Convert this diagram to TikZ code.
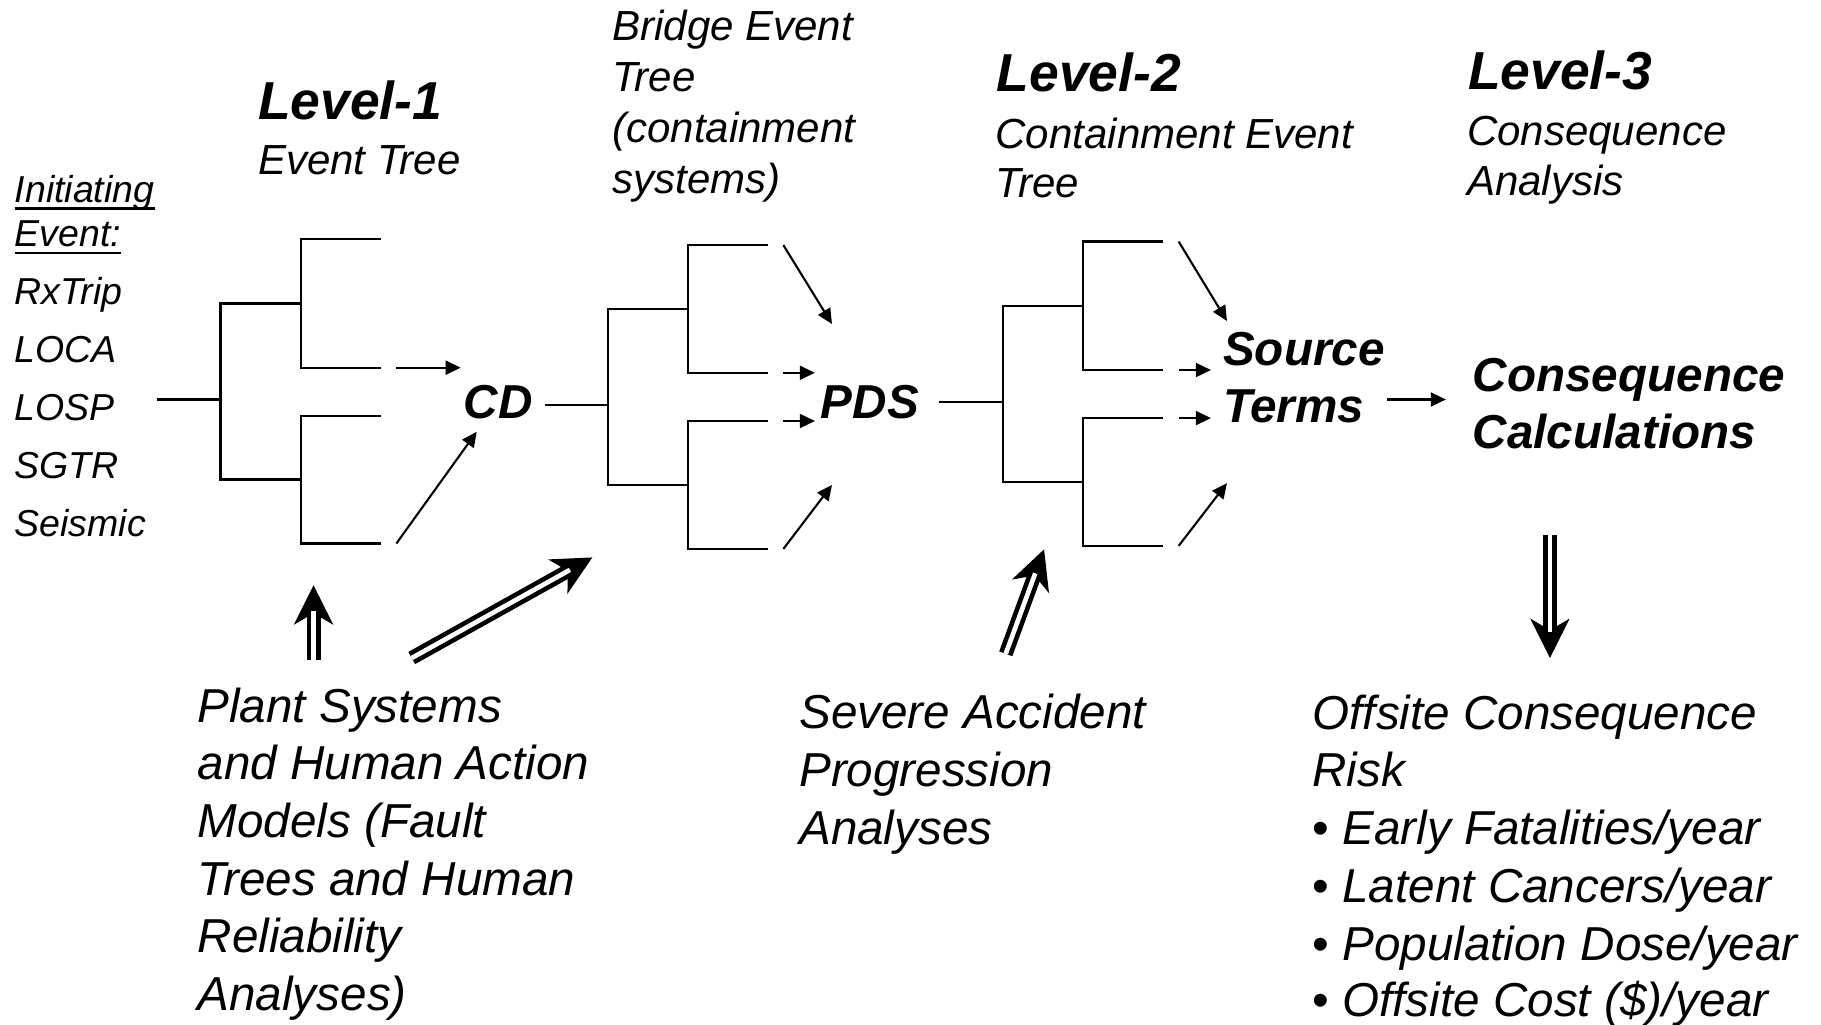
\documentclass[tikz,border=0pt]{standalone}
\usepackage{fontspec}
\setmainfont{Liberation Sans}
\usetikzlibrary{arrows.meta}

\tikzset{
  branch/.style={line width=2pt, line join=miter},
  ptr/.style={line width=1.8pt, -{Triangle[length=13pt,width=12pt]}},
  fatshaft/.style={line width=12pt, -{Stealth[length=34pt,width=34pt,inset=10pt,line width=0pt]}},
  fatgap/.style={line width=4pt, white, shorten >=22pt},
  txt/.style={anchor=base west, inner sep=0pt},
  hdtext/.style={txt, font=\fontsize{46}{50}\selectfont\bfseries\itshape},
  subtext/.style={txt, font=\fontsize{36.2}{40}\selectfont\itshape},
  ietext/.style={txt, font=\fontsize{32.3}{36}\selectfont\itshape},
  stagetext/.style={inner sep=0pt, font=\fontsize{41}{46}\selectfont\bfseries\itshape},
  bodytext/.style={txt, font=\fontsize{41}{46}\selectfont\itshape},
}

% Two-level binary event tree:
% #1 name, #2 junction x, #3 branch x, #4 leaf end x, #5 root y, #6-#9 leaf y
\newcommand{\eventtree}[9]{%
  \coordinate (#1-in) at (#2,#5);
  \coordinate (#1-a) at (#4,#6);
  \coordinate (#1-b) at (#4,#7);
  \coordinate (#1-c) at (#4,#8);
  \coordinate (#1-d) at (#4,#9);
  \coordinate (#1-sa) at ({#4+13.5},#6);
  \coordinate (#1-sb) at ({#4+13.5},#7);
  \coordinate (#1-sc) at ({#4+13.5},#8);
  \coordinate (#1-sd) at ({#4+13.5},#9);
  \draw[branch] (#1-a) -- (#3,#6) -- (#3,#7) -- (#1-b);
  \draw[branch] (#1-c) -- (#3,#8) -- (#3,#9) -- (#1-d);
  \draw[branch] (#3,{(#6+#7)/2}) -- (#2,{(#6+#7)/2}) -- (#2,{(#8+#9)/2}) -- (#3,{(#8+#9)/2});
}

% Open double-line arrow with a solid head
\newcommand{\fatarrow}[2]{%
  \draw[fatshaft] (#1) -- (#2);
  \draw[fatgap] (#1) -- (#2);
}

\begin{document}
\begin{tikzpicture}[x=1pt, y=-1pt]
\fill[white] (0,0) rectangle (1568,882);
\useasboundingbox (0,0) rectangle (1568,882);

% ---------- headings ----------
\node[hdtext] (lv1) at (222,103) {Level-1};
\node[subtext] (lv1s) at (222,150) {Event Tree};

\node[subtext] (brg1) at (527,35) {Bridge Event};
\node[subtext] (brg2) at (527,79) {Tree};
\node[subtext] (brg3) at (527,123) {(containment};
\node[subtext] (brg4) at (527,167) {systems)};

\node[hdtext] (lv2) at (858,79) {Level-2};
\node[subtext] (lv2s1) at (857,128) {Containment Event};
\node[subtext] (lv2s2) at (857,170) {Tree};

\node[hdtext] (lv3) at (1264,77) {Level-3};
\node[subtext] (lv3s1) at (1263,125) {Consequence};
\node[subtext] (lv3s2) at (1263,168) {Analysis};

% ---------- initiating events ----------
\node[ietext] (ie1) at (12.5,174) {Initiating};
\node[ietext] (ie2) at (12.5,212.5) {Event:};
\draw[line width=2pt] ([yshift=-5.5pt]ie1.base west) -- ([yshift=-5.5pt]ie1.base east);
\draw[line width=2pt] ([yshift=-5.5pt]ie2.base west) -- ([yshift=-5.5pt]ie2.base east);
\foreach \s [count=\k] in {RxTrip, LOCA, LOSP, SGTR, Seismic}
  \node[ietext] (iev\k) at (12.5,{262+50*(\k-1)}) {\s};

% ---------- event trees ----------
\eventtree{lone}{190}{259}{327.8}{344}{206}{316.6}{358}{468}
\eventtree{brg}{523.5}{592.4}{661}{348.7}{211}{321}{362.5}{472.7}
\eventtree{ltwo}{863.6}{932.5}{1001.4}{346}{208}{318.6}{360}{470}

% ---------- end states ----------
\node[stagetext, anchor=base] (cd) at (429,360.5) {CD};
\node[stagetext, anchor=base] (pds) at (749,360.5) {PDS};
\node[stagetext, anchor=base west] (src1) at (1053,315) {Source};
\node[stagetext, anchor=base west] (src2) at (1053,364) {Terms};
\node[stagetext, anchor=base west] (cc1) at (1268,337.5) {Consequence};
\node[stagetext, anchor=base west] (cc2) at (1268,386.5) {Calculations};

% ---------- tree inputs ----------
\coordinate (iep) at (135,344);
\draw[branch] (iep) -- (lone-in);
\draw[branch, shorten <=10.5pt] (cd.east |- brg-in) -- (brg-in);
\draw[branch, shorten <=17.3pt] (pds.east |- ltwo-in) -- (ltwo-in);

% ---------- arrows into the end states ----------
\coordinate (cd-t1) at (396.7,316.6);
\coordinate (cd-t2) at (410.5,371.7);
\draw[ptr] (lone-sb) -- (cd-t1);
\draw[ptr] (lone-sd) -- (cd-t2);

\coordinate (pds-t1) at (716.4,279);
\coordinate (pds-t2) at (701.7,321);
\coordinate (pds-t3) at (701.7,362.5);
\coordinate (pds-t4) at (716.4,417.6);
\draw[ptr] (brg-sa) -- (pds-t1);
\draw[ptr] (brg-sb) -- (pds-t2);
\draw[ptr] (brg-sc) -- (pds-t3);
\draw[ptr] (brg-sd) -- (pds-t4);

\coordinate (src-t1) at (1056.5,276.4);
\coordinate (src-t2) at (1042.7,318.6);
\coordinate (src-t3) at (1042.7,360);
\coordinate (src-t4) at (1056.5,416);
\draw[ptr] (ltwo-sa) -- (src-t1);
\draw[ptr] (ltwo-sb) -- (src-t2);
\draw[ptr] (ltwo-sc) -- (src-t3);
\draw[ptr] (ltwo-sd) -- (src-t4);

\coordinate (st-out) at (1194,344);
\coordinate (cc-in) at (1245,344);
\draw[ptr] (st-out) -- (cc-in);

% ---------- supporting analyses ----------
\foreach \s [count=\k] in {Plant Systems, and Human Action, {Models (Fault}, Trees and Human, Reliability, {Analyses)}}
  \node[bodytext] (psa\k) at (170,{622+49.6*(\k-1)}) {\s};

\foreach \s [count=\k] in {Severe Accident, Progression, Analyses}
  \node[bodytext] (sap\k) at (688,{627+50*(\k-1)}) {\s};

\node[bodytext] (ocr1) at (1130,628) {Offsite Consequence};
\node[bodytext] (ocr2) at (1130,677) {Risk};
\node[bodytext] (ocr3) at (1130,727) {{\upshape •} Early Fatalities/year};
\node[bodytext] (ocr4) at (1130,777) {{\upshape •} Latent Cancers/year};
\node[bodytext] (ocr5) at (1130,827) {{\upshape •} Population Dose/year};
\node[bodytext] (ocr6) at (1130,875) {{\upshape •} Offsite Cost (\$)/year};

% ---------- double arrows ----------
\coordinate (pa-tail) at (270,568);
\coordinate (pa-tip) at (270,504);
\coordinate (pb-tail) at (354.5,566.6);
\coordinate (pb-tip) at (510,480);
\coordinate (sa-tail) at (866,563);
\coordinate (sa-tip) at (899,473);
\coordinate (oc-tail) at (1334.6,460.6);
\coordinate (oc-tip) at (1334.6,566.6);
\fatarrow{pa-tail}{pa-tip}
\fatarrow{pb-tail}{pb-tip}
\fatarrow{sa-tail}{sa-tip}
\fatarrow{oc-tail}{oc-tip}
\end{tikzpicture}
\end{document}
